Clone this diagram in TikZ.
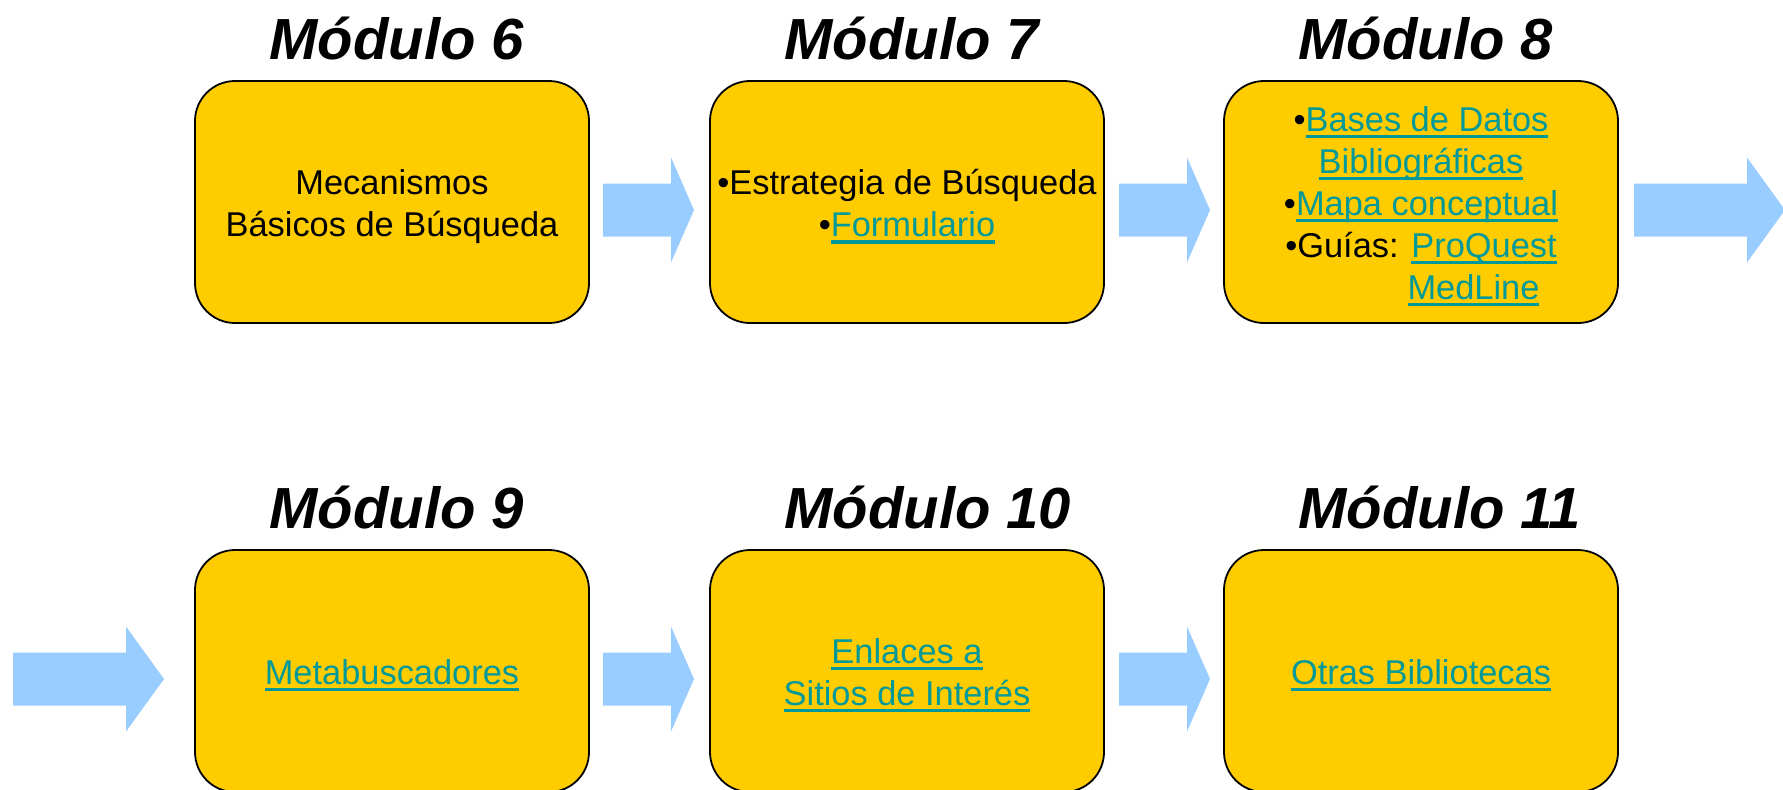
\documentclass[tikz,border=0pt]{standalone}
\usepackage{fontspec}
\setmainfont{Liberation Sans}
\usetikzlibrary{positioning}

\definecolor{modgold}{HTML}{FFCC00}
\definecolor{arrowblue}{HTML}{99CCFF}
\definecolor{linkteal}{HTML}{009999}

%% underlined link text
\newcommand\lnk[1]{{\color{linkteal}\setbox0=\hbox{#1}\rlap{\rule[-3.4pt]{\wd0}{1.6pt}}\box0}}

\tikzset{
  modbox/.style={draw=black, line width=0.9pt, fill=modgold, rounded corners=20pt,
    minimum width=197pt, minimum height=121pt, inner sep=0pt, outer sep=0pt},
  modtext/.style={align=center, inner sep=0pt, font=\fontsize{17.2}{21}\selectfont},
  modtitle/.style={font=\fontsize{29}{34}\selectfont\bfseries\itshape, inner sep=0pt, anchor=base west},
  blockfill/.style={fill=arrowblue}
}

\begin{document}
\begin{tikzpicture}[x=0.5pt, y=-0.5pt]

\newcommand\BlockArrow[3]{% tail, length, head
  \fill[blockfill, shift={#1}] (0,-26.5) -- (#2-#3,-26.5) -- (#2-#3,-52.5) -- (#2,0)
    -- (#2-#3,52.5) -- (#2-#3,26.5) -- (0,26.5) -- cycle;}

\newcommand\TY{-2.25pt}

\useasboundingbox (0,0) rectangle (1783,789); %% page

%% first row
\node[modbox] (m6) at (392,202) {};
\node[modbox, right=60.5pt of m6] (m7) {};
\node[modbox, right=60pt of m7] (m8) {};

\node[modtext] (x6) at ([yshift=\TY]m6.center) {Mecanismos\\Básicos de Búsqueda};
\node[modtext] (x7) at ([yshift=\TY]m7.center) {•Estrategia de Búsqueda\\•\lnk{Formulario}};
\node[modtext] (x8) at ([yshift=\TY]m8.center) {•\lnk{Bases de Datos}\\\lnk{Bibliográficas}\\•\lnk{Mapa conceptual}\\•Guías: \lnk{ProQuest}\\\hspace*{52.5pt}\lnk{MedLine}};

\node[modtitle] (t6) at ([xshift=37pt,yshift=11pt]m6.north west) {Módulo 6};
\node[modtitle] (t7) at ([xshift=37pt,yshift=11pt]m7.north west) {Módulo 7};
\node[modtitle] (t8) at ([xshift=37pt,yshift=11pt]m8.north west) {Módulo 8};
%%

%% second row
\node[modbox, below=113.5pt of m6] (m9) {};
\node[modbox, right=60.5pt of m9] (m10) {};
\node[modbox, right=60pt of m10] (m11) {};

\node[modtext] (x9) at ([yshift=\TY]m9.center) {\lnk{Metabuscadores}};
\node[modtext] (x10) at ([yshift=\TY]m10.center) {\lnk{Enlaces a}\\\lnk{Sitios de Interés}};
\node[modtext] (x11) at ([yshift=\TY]m11.center) {\lnk{Otras Bibliotecas}};

\node[modtitle] (t9) at ([xshift=37pt,yshift=11pt]m9.north west) {Módulo 9};
\node[modtitle] (t10) at ([xshift=37pt,yshift=11pt]m10.north west) {Módulo 10};
\node[modtitle] (t11) at ([xshift=37pt,yshift=11pt]m11.north west) {Módulo 11};
%%

%% arrows
\coordinate (a67) at ([xshift=7pt,yshift=-4pt]m6.east);
\coordinate (a78) at ([xshift=7.5pt,yshift=-4pt]m7.east);
\coordinate (a8n) at ([xshift=8pt,yshift=-4pt]m8.east);
\coordinate (a9p) at ([xshift=-91pt,yshift=-4pt]m9.west);
\coordinate (a910) at ([xshift=7pt,yshift=-4pt]m9.east);
\coordinate (a1011) at ([xshift=7.5pt,yshift=-4pt]m10.east);

\BlockArrow{(a67)}{91}{23}
\BlockArrow{(a78)}{91}{23}
\BlockArrow{(a8n)}{151}{38}
\BlockArrow{(a9p)}{151}{38}
\BlockArrow{(a910)}{91}{23}
\BlockArrow{(a1011)}{91}{23}

\end{tikzpicture}
\end{document}
